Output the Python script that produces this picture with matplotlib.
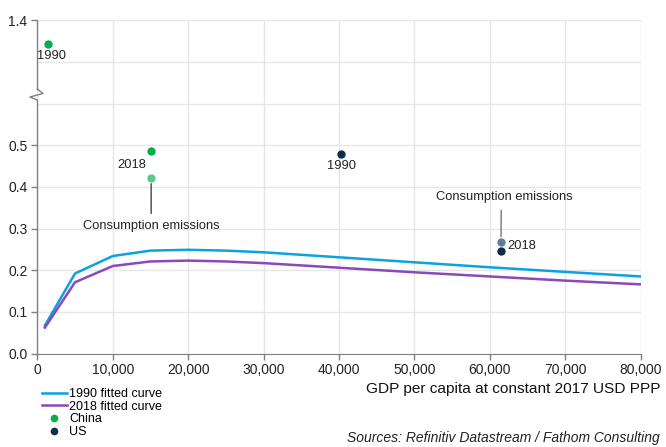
import numpy as np
import matplotlib
matplotlib.use("Agg")
import matplotlib.pyplot as plt
from matplotlib.lines import Line2D

plt.rcParams['font.family'] = ['Liberation Sans', 'DejaVu Sans']

# Fitted emissions-intensity curves
gdp_fit = [1000, 5000, 10000, 15000, 20000, 25000, 30000, 40000, 50000, 60000, 70000, 80000]
fit_1990 = [0.067, 0.192, 0.234, 0.247, 0.249, 0.247, 0.243, 0.231, 0.219, 0.207, 0.196, 0.185]
fit_2018 = [0.062, 0.171, 0.210, 0.221, 0.223, 0.221, 0.217, 0.206, 0.195, 0.185, 0.175, 0.166]

# Country observations
china_gdp = [1400, 15100]
china_val = [1.344, 0.485]
china_cons_gdp = [15100]
china_cons_val = [0.421]
us_gdp = [40300, 61500]
us_val = [0.480, 0.247]
us_cons_gdp = [61500]
us_cons_val = [0.267]

x_ticks = [0, 10000, 20000, 30000, 40000, 50000, 60000, 70000, 80000]
y_ticks = [0.0, 0.1, 0.2, 0.3, 0.4, 0.5, 1.4]

c1990 = '#0aa2e2'
c2018 = '#8b48b8'
c_china = '#00b050'
c_china_cons = '#5cc98a'
c_us = '#0c2e4e'
c_us_cons = '#5f7f98'
grid_c = '#e6e6e6'
spine_c = '#808080'

# Broken axis: 0.6-1.3 is squeezed into one grid step
def fwd(y):
    y = np.asarray(y, dtype=float)
    return np.where(y <= 0.6, y, np.where(y <= 1.3, 0.6 + (y - 0.6) / 7.0, y - 0.6))

def inv(t):
    t = np.asarray(t, dtype=float)
    return np.where(t <= 0.6, t, np.where(t <= 0.7, 0.6 + (t - 0.6) * 7.0, t + 0.6))

fig = plt.figure(figsize=(6.66, 4.47), dpi=100)
W, H = 666, 447
ax = fig.add_axes([37.3 / W, (H - 353.5) / H, (640.5 - 37.3) / W, (353.5 - 20.3) / H])
ax.set_yscale('function', functions=(fwd, inv))
ax.set_xlim(0, 80000)
ax.set_ylim(0, 1.4)

ax.set_xticks(x_ticks)
ax.set_xticklabels([f"{v:,}" for v in x_ticks])
ax.set_yticks(y_ticks)
ax.set_yticklabels([f"{v:.1f}" for v in y_ticks])
ax.set_yticks([0.6, 1.3], minor=True)
ax.tick_params(axis='both', which='major', labelsize=10, colors=spine_c,
               labelcolor='#222222', length=4, width=1)
ax.tick_params(axis='x', pad=3)
ax.tick_params(axis='y', which='minor', length=0)
ax.tick_params(axis='y', which='major', pad=3)
ax.grid(True, which='both', color=grid_c, lw=1)
ax.set_axisbelow(True)

for s in ['top', 'right', 'left']:
    ax.spines[s].set_visible(False)
ax.spines['bottom'].set_color(spine_c)

# Left spine with zig-zag break
axw = 640.5 - 37.3
axh = 353.5 - 20.3
def ay(py):
    return (353.5 - py) / axh
def axx(px):
    return (px - 37.3) / axw
ax.plot([0, 0], [0, ay(100)], transform=ax.transAxes, color=spine_c, lw=1, clip_on=False)
ax.plot([0, axx(30), axx(43), 0], [ay(100), ay(97), ay(93.5), ay(89)],
        transform=ax.transAxes, color=spine_c, lw=1, clip_on=False)
ax.plot([0, 0], [ay(89), 1], transform=ax.transAxes, color=spine_c, lw=1, clip_on=False)

ax.plot(gdp_fit, fit_1990, color=c1990, lw=1.8, zorder=3)
ax.plot(gdp_fit, fit_2018, color=c2018, lw=1.8, zorder=3)

ms = 5
ax.plot(china_gdp, china_val, 'o', color=c_china, ms=ms, zorder=4, clip_on=False)
ax.plot(china_cons_gdp, china_cons_val, 'o', color=c_china_cons, ms=ms, zorder=4)
ax.plot(us_gdp, us_val, 'o', color=c_us, ms=ms, zorder=4)
ax.plot(us_cons_gdp, us_cons_val, 'o', color=c_us_cons, ms=ms, zorder=4)

fs = 9.3
tc = '#222222'
px = 0.72  # points per pixel
ax.annotate('1990', (china_gdp[0], china_val[0]), xytext=(4 * px, -12 * px),
            textcoords='offset points', ha='center', va='center', fontsize=fs, color=tc)
ax.annotate('2018', (china_gdp[1], china_val[1]), xytext=(-19 * px, -14 * px),
            textcoords='offset points', ha='center', va='center', fontsize=fs, color=tc)
ax.annotate('1990', (us_gdp[0], us_val[0]), xytext=(0, -12 * px),
            textcoords='offset points', ha='center', va='center', fontsize=fs, color=tc)
ax.annotate('2018', (us_gdp[1], us_val[1]), xytext=(21 * px, 4.5 * px),
            textcoords='offset points', ha='center', va='center', fontsize=fs, color=tc)

ax.annotate('Consumption emissions', (china_cons_gdp[0], china_cons_val[0]),
            xytext=(china_cons_gdp[0], 0.305), textcoords='data',
            ha='center', va='center', fontsize=fs, color=tc,
            arrowprops=dict(arrowstyle='-', color='#444444', lw=1, shrinkA=3, shrinkB=4))
ax.annotate('Consumption emissions', (us_cons_gdp[0], us_cons_val[0]),
            xytext=(us_cons_gdp[0] + 400, 0.375), textcoords='data',
            ha='center', va='center', fontsize=fs, color=tc,
            arrowprops=dict(arrowstyle='-', color='#777777', lw=1, shrinkA=3, shrinkB=4,
                            relpos=(0.48, 0.5)))

fig.text(660 / W, 1 - 389 / H, 'GDP per capita at constant 2017 USD PPP',
         ha='right', va='center', fontsize=11.1, color='#111111')
fig.text(660 / W, 1 - 438 / H, 'Sources: Refinitiv Datastream / Fathom Consulting',
         ha='right', va='center', fontsize=10, style='italic', color='#222222')

handles = [
    Line2D([], [], color=c1990, lw=1.8),
    Line2D([], [], color=c2018, lw=1.8),
    Line2D([], [], color=c_china, marker='o', ls='none', ms=4.5),
    Line2D([], [], color=c_us, marker='o', ls='none', ms=4.5),
]
labels = ['1990 fitted curve', '2018 fitted curve', 'China', 'US']
fig.legend(handles, labels, loc='upper left', bbox_to_anchor=(42 / W, 1 - 388 / H),
           frameon=False, fontsize=9, handlelength=2.0, handletextpad=0.15,
           labelspacing=0.06, borderpad=0, borderaxespad=0)

fig.savefig('out.png', dpi=100)
